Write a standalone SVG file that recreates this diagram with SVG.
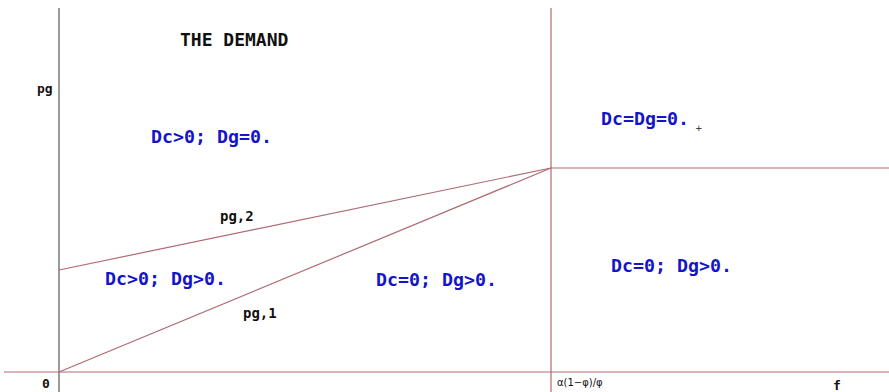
<svg xmlns="http://www.w3.org/2000/svg" width="889" height="392" viewBox="0 0 889 392">
<style>
.ln{stroke:#b06a72;stroke-width:1.2;fill:none}
.ax{stroke:#7a7a7a;stroke-width:1.5;fill:none}
.bl{font-family:"DejaVu Sans Mono",monospace;font-weight:bold;font-size:18.3px;fill:#1414c8}
.bk{font-family:"DejaVu Sans Mono",monospace;font-weight:bold;fill:#111}
</style>
<rect width="889" height="392" fill="#fff"/>
<g id="connectors">
<line class="ax" x1="59" y1="8" x2="59" y2="392"/>
<line class="ln" x1="4" y1="372" x2="889" y2="372"/>
<line class="ln" x1="551" y1="8" x2="551" y2="392"/>
<line class="ln" x1="551" y1="168" x2="889" y2="168"/>
<line class="ln" x1="59" y1="270" x2="551" y2="168"/>
<line class="ln" x1="59" y1="372" x2="551" y2="168"/>
</g>
<g id="title"><text class="bk" x="180" y="46" font-size="18">THE DEMAND</text></g>
<g id="ylabel"><text class="bk" x="37" y="93" font-size="13">pg</text></g>
<g id="origin"><text class="bk" x="42" y="388" font-size="13">0</text></g>
<g id="xlabel"><text class="bk" x="833" y="390" font-size="13">f</text></g>
<g id="threshold"><text x="557" y="386" font-family="DejaVu Sans, sans-serif" font-size="10" fill="#111">α(1−φ)/φ</text></g>
<g id="r1"><text class="bl" x="151" y="143">Dc&gt;0; Dg=0.</text></g>
<g id="r2"><text class="bl" x="601" y="125">Dc=Dg=0.</text></g>
<g id="plus"><text x="695" y="131" font-family="DejaVu Sans, sans-serif" font-size="9" fill="#222">+</text></g>
<g id="r3"><text class="bl" x="105" y="285">Dc&gt;0; Dg&gt;0.</text></g>
<g id="r4"><text class="bl" x="376" y="286">Dc=0; Dg&gt;0.</text></g>
<g id="r5"><text class="bl" x="611" y="272">Dc=0; Dg&gt;0.</text></g>
<g id="pg2"><text class="bk" x="220" y="221" font-size="14">pg,2</text></g>
<g id="pg1"><text class="bk" x="243" y="318" font-size="14">pg,1</text></g>
</svg>
